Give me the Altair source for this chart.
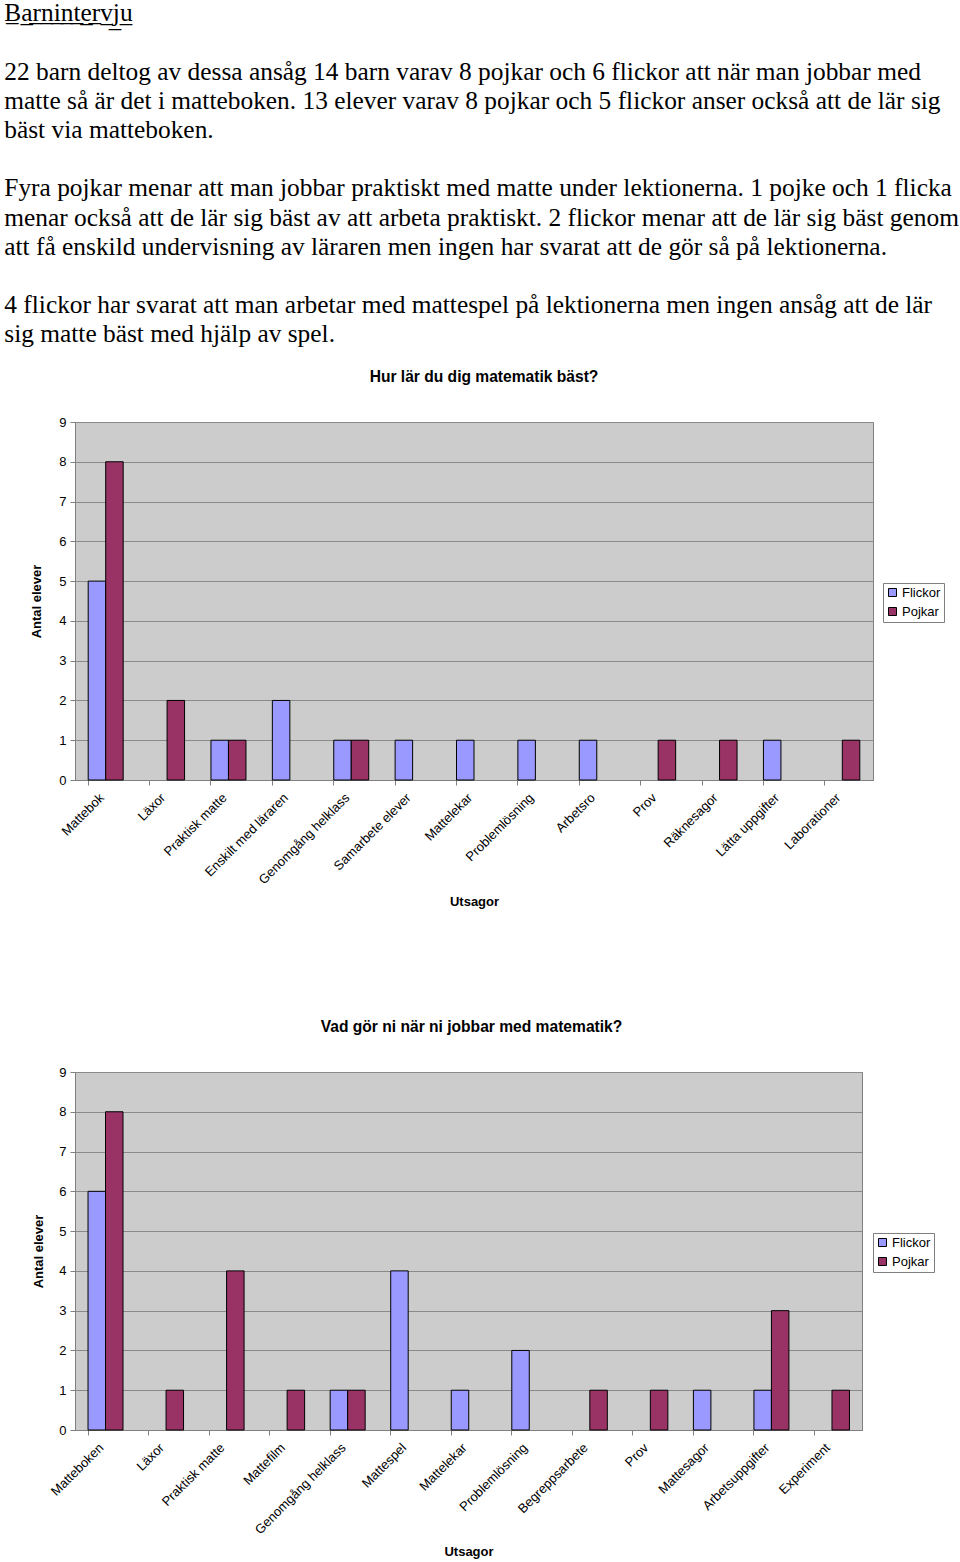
import altair as alt
import pandas as pd

# ---------------- data ----------------
heading = "Barnintervju"
paragraph_lines = [
    "22 barn deltog av dessa ansåg 14 barn varav 8 pojkar och 6 flickor att när man jobbar med",
    "matte så är det i matteboken. 13 elever varav 8 pojkar och 5 flickor anser också att de lär sig",
    "bäst via matteboken.",
    "",
    "Fyra pojkar menar att man jobbar praktiskt med matte under lektionerna. 1 pojke och 1 flicka",
    "menar också att de lär sig bäst av att arbeta praktiskt. 2 flickor menar att de lär sig bäst genom",
    "att få enskild undervisning av läraren men ingen har svarat att de gör så på lektionerna.",
    "",
    "4 flickor har svarat att man arbetar med mattespel på lektionerna men ingen ansåg att de lär",
    "sig matte bäst med hjälp av spel.",
]

title1 = "Hur lär du dig matematik bäst?"
cats1 = ["Mattebok", "Läxor", "Praktisk matte", "Enskilt med läraren",
         "Genomgång helklass", "Samarbete elever", "Mattelekar", "Problemlösning",
         "Arbetsro", "Prov", "Räknesagor", "Lätta uppgifter", "Laborationer"]
flickor1 = [5, 0, 1, 2, 1, 1, 1, 1, 1, 0, 0, 1, 0]
pojkar1 = [8, 2, 1, 0, 1, 0, 0, 0, 0, 1, 1, 0, 1]

title2 = "Vad gör ni när ni jobbar med matematik?"
cats2 = ["Matteboken", "Läxor", "Praktisk matte", "Mattefilm", "Genomgång helklass",
         "Mattespel", "Mattelekar", "Problemlösning", "Begreppsarbete", "Prov",
         "Mattesagor", "Arbetsuppgifter", "Experiment"]
flickor2 = [6, 0, 0, 0, 1, 4, 1, 2, 0, 0, 1, 1, 0]
pojkar2 = [8, 1, 4, 1, 1, 0, 0, 0, 1, 1, 0, 3, 1]

series = ["Flickor", "Pojkar"]
colors = ["#9999FF", "#993366"]
y_ticks = [0, 1, 2, 3, 4, 5, 6, 7, 8, 9]

SANS = "Liberation Sans"
SERIF = "Liberation Serif"


def make_df(cats, f, p):
    rows = []
    for c, a, b in zip(cats, f, p):
        rows.append({"Utsaga": c, "Kön": "Flickor", "Antal": a})
        rows.append({"Utsaga": c, "Kön": "Pojkar", "Antal": b})
    df = pd.DataFrame(rows)
    return df[df["Antal"] > 0]


def bar_chart(df, cats, title, w, h, ytitle_pad, legend_x, legend_y, title_dx):
    xscale = alt.Scale(domain=cats, paddingInner=0.43, paddingOuter=0.215)
    bars = alt.Chart(df).mark_bar(stroke="black", strokeWidth=1).encode(
        x=alt.X("Utsaga:N", sort=cats, scale=xscale,
                axis=alt.Axis(title="Utsagor", labelAngle=-45, labelAlign="right",
                              labelBaseline="top", labelPadding=11, labelOffset=-8,
                              ticks=False,
                              domainColor="#808080", labelFont=SANS, labelFontSize=13,
                              labelColor="black", labelOverlap=False,
                              titleFont=SANS, titleFontSize=13, titleFontWeight="bold",
                              titleColor="black", titlePadding=9, grid=False)),
        xOffset=alt.XOffset("Kön:N", scale=alt.Scale(domain=series, paddingInner=0, paddingOuter=0)),
        y=alt.Y("Antal:Q", scale=alt.Scale(domain=[0, 9], nice=False),
                axis=alt.Axis(values=y_ticks, title="Antal elever", format="d",
                              tickSize=5, tickColor="#808080", domainColor="#808080",
                              gridColor="#8a8a8a", labelFont=SANS, labelFontSize=13,
                              labelColor="black", labelPadding=4,
                              titleFont=SANS, titleFontSize=13, titleFontWeight="bold",
                              titleColor="black", titlePadding=ytitle_pad)),
        color=alt.Color("Kön:N", scale=alt.Scale(domain=series, range=colors),
                        legend=alt.Legend(title=None, orient="none", legendX=legend_x,
                                          legendY=legend_y, symbolType="square",
                                          symbolSize=64, symbolStrokeColor="black",
                                          symbolStrokeWidth=1, labelFont=SANS,
                                          labelFontSize=13, labelColor="black",
                                          labelOffset=3, rowPadding=5, padding=3,
                                          strokeColor="#808080", fillColor="white")),
    )
    ticks = alt.Chart(df).mark_bar(opacity=0).encode(
        x=alt.X("Utsaga:N", sort=cats, scale=xscale,
                axis=alt.Axis(orient="bottom", labels=False, ticks=True, tickSize=5,
                              tickColor="#808080", bandPosition=0, domain=False,
                              title=None, grid=False)),
    )
    return alt.layer(bars, ticks).resolve_axis(x="independent").properties(
        width=w, height=h,
        title=alt.TitleParams(text=title, font=SANS, fontSize=15.6, fontWeight="bold",
                              color="black", anchor="middle", frame="group",
                              offset=30, dx=title_dx),
    )


df1 = make_df(cats1, flickor1, pojkar1)
df2 = make_df(cats2, flickor2, pojkar2)

c1 = bar_chart(df1, cats1, title1, 798, 358, 15, 808, 161, 10)
c2 = bar_chart(df2, cats2, title2, 787, 358, 13, 798, 161, 3)

underlined = "".join(ch + "\u0332" for ch in heading)
page_lines = [underlined, ""] + paragraph_lines
page_lines = [ln if ln else "\u2800" for ln in page_lines]

chart = alt.vconcat(c1, c2, spacing=109).resolve_scale(color="independent").resolve_legend(
    color="independent"
).properties(
    title=alt.TitleParams(text=page_lines, font=SERIF, fontSize=25.4, fontWeight="normal",
                          lineHeight=29.2, color="black", anchor="start", frame="bounds",
                          dx=-26, offset=22, baseline="top"),
    padding={"left": 4, "top": 1, "right": 0, "bottom": 0},
    background="white",
).configure_view(fill="#CCCCCC", stroke="#808080", strokeWidth=1)

chart.save("out.html", embed_options={"renderer": "svg", "actions": False})
